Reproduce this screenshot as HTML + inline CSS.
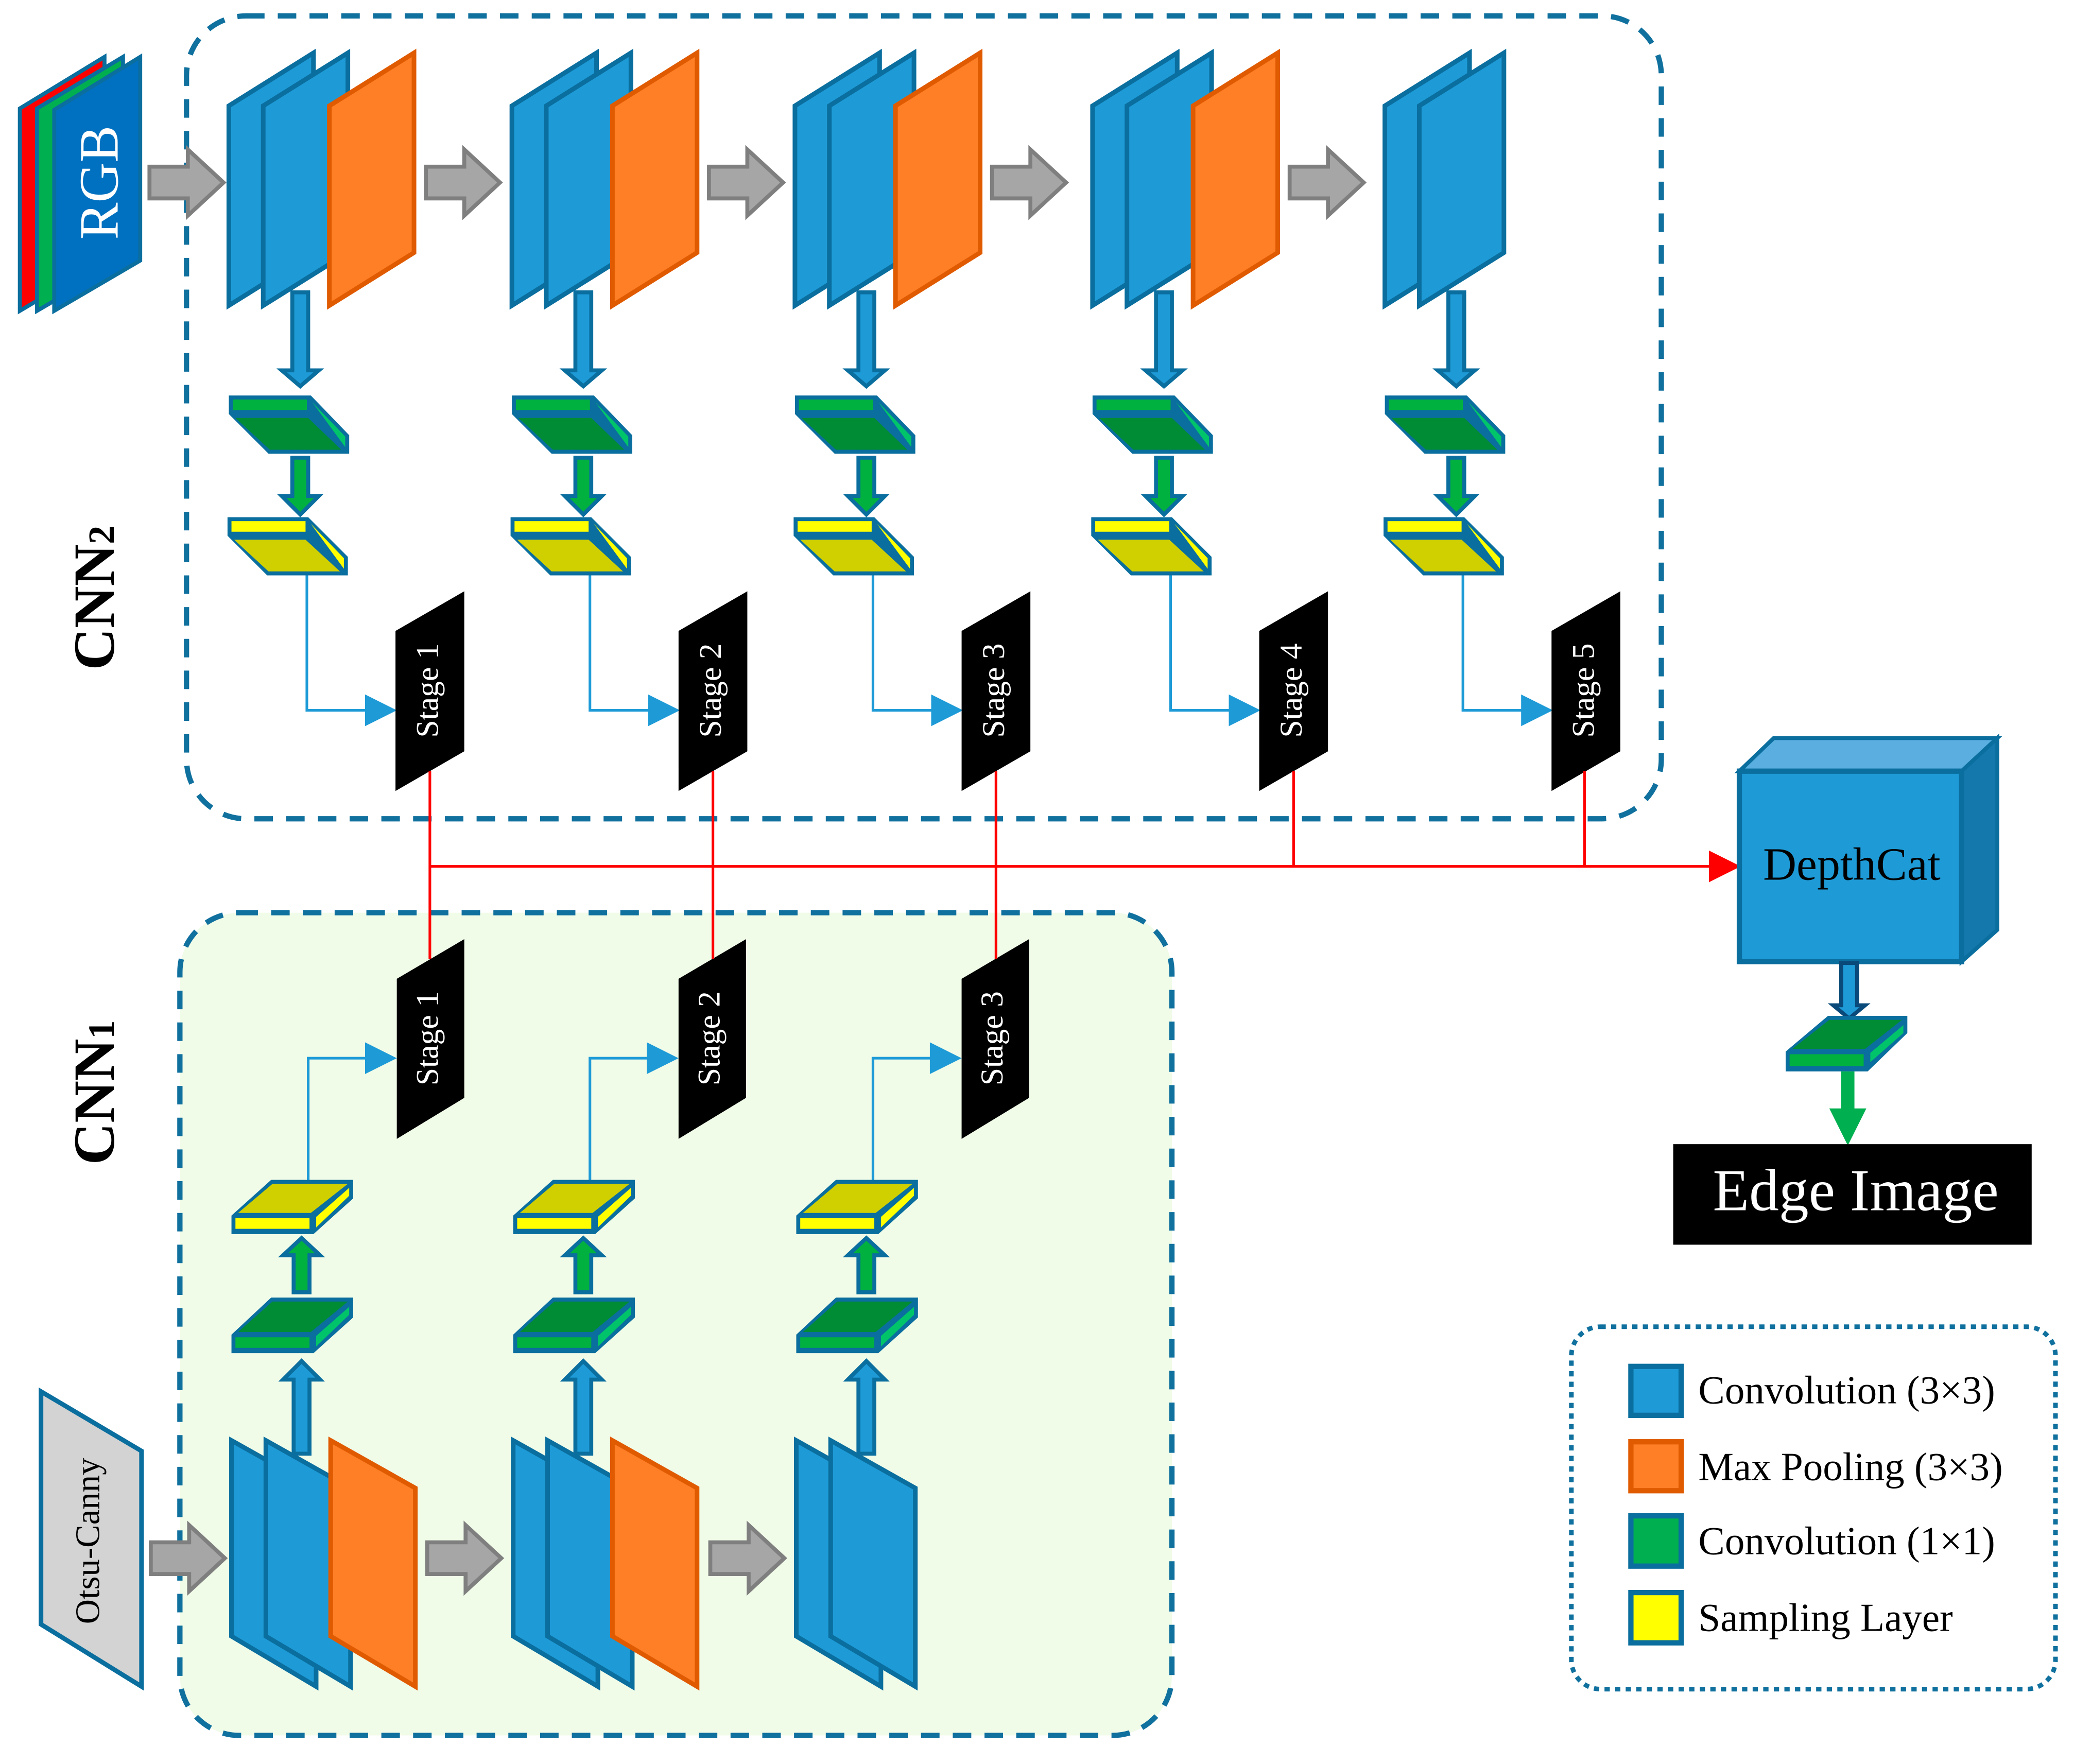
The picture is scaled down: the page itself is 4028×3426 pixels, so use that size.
<!DOCTYPE html>
<html><head><meta charset="utf-8">
<style>
html,body{margin:0;padding:0;background:#fff;}
svg{display:block;}
text{font-family:"Liberation Serif",serif;}
</style></head>
<body>
<svg width="4028" height="3426" viewBox="0 0 1568 1333.6" preserveAspectRatio="none" xmlns="http://www.w3.org/2000/svg">
<defs>
  <g id="tblue">
    <polygon points="0,80 64,40 64,191 0,231" fill="#1e9bd7" stroke="#0a6e9e" stroke-width="3.5" stroke-linejoin="miter"/>
  </g>
  <g id="torange">
    <polygon points="0,80 64,40 64,191 0,231" fill="#ff7f27" stroke="#e05a00" stroke-width="3.5"/>
  </g>
  <g id="tlower">
    <polygon points="48,221 60,221 60,280 68,280 54,292 40,280 48,280" fill="#1e9bd7" stroke="#0a6e9e" stroke-width="3"/>
    <polygon points="0,299 62,299 91,329 91,343 30,343 0,313" fill="#0a6e9e"/>
    <rect x="3" y="302" width="56" height="8" fill="#00b140"/>
    <polygon points="63,304 88,330 88,338" fill="#00c46a"/>
    <polygon points="5,316 60,316 85,340 31,340" fill="#008c35"/>
    <polygon points="48,346 60,346 60,375 68,375 54,389 40,375 48,375" fill="#00b140" stroke="#0a6e9e" stroke-width="3"/>
    <polygon points="-1,391 60,391 90,421 90,435 29,435 -1,405" fill="#0a6e9e"/>
    <rect x="2" y="394" width="56" height="8" fill="#ffff00"/>
    <polygon points="62,396 87,422 87,430" fill="#ffff00"/>
    <polygon points="4,408 58,408 84,432 30,432" fill="#d0d000"/>
    <polyline points="59,435 59,537 106,537" fill="none" stroke="#1e9bd7" stroke-width="2"/>
    <polygon points="103,525 127,537 103,549" fill="#1e9bd7"/>
    <polygon points="126,477 178,447 178,568 126,598" fill="#000"/>
  </g>
  <g id="bblue">
    <polygon points="0,1089 64,1125 64,1275 0,1237" fill="#1e9bd7" stroke="#0a6e9e" stroke-width="3.5"/>
  </g>
  <g id="borange">
    <polygon points="0,1089 64,1125 64,1275 0,1237" fill="#ff7f27" stroke="#e05a00" stroke-width="3.5"/>
  </g>
  <g id="bupper">
    <polygon points="47,1099 59,1099 59,1043 67,1043 53,1029 39,1043 47,1043" fill="#1e9bd7" stroke="#0a6e9e" stroke-width="3"/>
    <polygon points="0,1009 30,981 92,981 92,996 62,1023 0,1023" fill="#0a6e9e"/>
    <polygon points="5,1007 31,984 88,984 60,1007" fill="#008c35"/>
    <rect x="3" y="1011" width="56" height="8" fill="#00b140"/>
    <polygon points="64,1010 89,988 89,994 64,1018" fill="#00c46a"/>
    <polygon points="47,977 59,977 59,949 67,949 53,936 39,949 47,949" fill="#00b140" stroke="#0a6e9e" stroke-width="3"/>
    <polygon points="0,919 30,892 92,892 92,906 62,933 0,933" fill="#0a6e9e"/>
    <polygon points="5,917 31,895 88,895 60,917" fill="#d0d000"/>
    <rect x="3" y="921" width="56" height="8" fill="#ffff00"/>
    <polygon points="64,920 89,898 89,904 64,928" fill="#ffff00"/>
    <polyline points="58,892 58,800 104,800" fill="none" stroke="#1e9bd7" stroke-width="2"/>
    <polygon points="101,788 125,800 101,812" fill="#1e9bd7"/>
    <polygon points="125,740 176,710 176,830 125,861" fill="#000"/>
  </g>
  <g id="garrow">
    <polygon points="0,-12 29,-12 29,-25 56,0 29,25 29,12 0,12" fill="#a6a6a6" stroke="#7f7f7f" stroke-width="3"/>
  </g>
</defs>

<rect x="141" y="12" width="1115" height="607" rx="45" fill="none" stroke="#10709e" stroke-width="4" stroke-dasharray="14 10"/>
<rect x="136" y="690" width="750" height="622" rx="45" fill="#f0fbe8" stroke="#10709e" stroke-width="4" stroke-dasharray="14 10"/>

<polygon points="15,82 79,43 79,197 15,235" fill="#ff0000" stroke="#0a6e9e" stroke-width="3"/>
<polygon points="28,82 93,43 93,197 28,235" fill="#00b050" stroke="#0a6e9e" stroke-width="3"/>
<polygon points="41,83 106,43 106,197 41,235" fill="#0070c0" stroke="#0a6e9e" stroke-width="3"/>
<text transform="translate(89,138) rotate(-90)" text-anchor="middle" font-size="42" fill="#fff">RGB</text>

<polygon points="31,1052 107,1097 107,1275 31,1228" fill="#d3d3d3" stroke="#0a6e9e" stroke-width="3.5"/>
<text transform="translate(75,1165) rotate(-90)" text-anchor="middle" font-size="26" fill="#000">Otsu-Canny</text>

<text transform="translate(86,452) rotate(-90)" text-anchor="middle" font-size="44" font-weight="bold" fill="#000">CNN<tspan font-size="28">2</tspan></text>
<text transform="translate(86,826) rotate(-90)" text-anchor="middle" font-size="44" font-weight="bold" fill="#000">CNN<tspan font-size="28">1</tspan></text>

<use href="#garrow" x="113" y="138"/>
<use href="#garrow" x="322" y="138"/>
<use href="#garrow" x="536" y="138"/>
<use href="#garrow" x="750" y="138"/>
<use href="#garrow" x="975" y="138"/>
<use href="#garrow" x="114" y="1178"/>
<use href="#garrow" x="323" y="1178"/>
<use href="#garrow" x="537" y="1178"/>

<g transform="translate(173,0)"><use href="#tblue"/><use href="#tblue" x="26"/><use href="#torange" x="76"/><use href="#tlower"/></g>
<g transform="translate(387,0)"><use href="#tblue"/><use href="#tblue" x="26"/><use href="#torange" x="76"/><use href="#tlower"/></g>
<g transform="translate(601,0)"><use href="#tblue"/><use href="#tblue" x="26"/><use href="#torange" x="76"/><use href="#tlower"/></g>
<g transform="translate(826,0)"><use href="#tblue"/><use href="#tblue" x="26"/><use href="#torange" x="76"/><use href="#tlower"/></g>
<g transform="translate(1047,0)"><use href="#tblue"/><use href="#tblue" x="26"/><use href="#tlower"/></g>

<g transform="translate(175,0)"><use href="#bblue"/><use href="#bblue" x="26"/><use href="#borange" x="75"/><use href="#bupper"/></g>
<g transform="translate(388,0)"><use href="#bblue"/><use href="#bblue" x="26"/><use href="#borange" x="75"/><use href="#bupper"/></g>
<g transform="translate(602,0)"><use href="#bblue"/><use href="#bblue" x="26"/><use href="#bupper"/></g>

<g font-size="24" fill="#fff" text-anchor="middle">
<text transform="translate(331,522) rotate(-90)">Stage 1</text>
<text transform="translate(545,522) rotate(-90)">Stage 2</text>
<text transform="translate(759,522) rotate(-90)">Stage 3</text>
<text transform="translate(984,522) rotate(-90)">Stage 4</text>
<text transform="translate(1205,522) rotate(-90)">Stage 5</text>
<text transform="translate(331,785) rotate(-90)">Stage 1</text>
<text transform="translate(544,785) rotate(-90)">Stage 2</text>
<text transform="translate(758,785) rotate(-90)">Stage 3</text>
</g>

<g stroke="#ff0000" stroke-width="2" fill="none">
<line x1="325" y1="583" x2="325" y2="725"/>
<line x1="539" y1="583" x2="539" y2="725"/>
<line x1="753" y1="583" x2="753" y2="725"/>
<line x1="978" y1="583" x2="978" y2="655"/>
<line x1="1198" y1="583" x2="1198" y2="655"/>
<line x1="325" y1="655" x2="1295" y2="655"/>
</g>
<polygon points="1292,643 1316,655 1292,667" fill="#ff0000"/>

<polygon points="1315,583 1341,558 1510,558 1483,583" fill="#5aafe0" stroke="#0a6e9e" stroke-width="3"/>
<polygon points="1483,583 1510,558 1510,703 1483,727" fill="#1578ad" stroke="#0a6e9e" stroke-width="3"/>
<rect x="1315" y="583" width="168" height="144" fill="#1e9bd7" stroke="#0a6e9e" stroke-width="4"/>
<text x="1400" y="665" text-anchor="middle" font-size="35" fill="#000">DepthCat</text>
<polygon points="1392,728 1404,728 1404,760 1410,760 1398,770 1386,760 1392,760" fill="#1e9bd7" stroke="#0a4a7a" stroke-width="3"/>
<polygon points="1350,795 1382,768 1442,768 1442,781 1412,810 1350,810" fill="#0a6e9e"/>
<polygon points="1355,793 1383,771 1438,771 1410,793" fill="#008c35"/>
<rect x="1353" y="797" width="56" height="9" fill="#00b140"/>
<polygon points="1414,796 1439,775 1439,781 1414,803" fill="#00c46a"/>
<polygon points="1392,810 1402,810 1402,838 1411,838 1397,866 1383,838 1392,838" fill="#00b050"/>
<rect x="1265" y="865" width="271" height="76" fill="#000"/>
<text x="1403" y="915" text-anchor="middle" font-size="45" fill="#fff">Edge Image</text>

<rect x="1188" y="1003" width="366" height="274" rx="22" fill="none" stroke="#10709e" stroke-width="3.5" stroke-dasharray="4 4"/>
<rect x="1233" y="1033" width="38" height="37" fill="#1e9bd7" stroke="#0a6e9e" stroke-width="4"/>
<rect x="1233" y="1090" width="38" height="37" fill="#ff7f27" stroke="#e05a00" stroke-width="4"/>
<rect x="1233" y="1146" width="38" height="38" fill="#00b050" stroke="#0a6e9e" stroke-width="4"/>
<rect x="1233" y="1204" width="38" height="38" fill="#ffff00" stroke="#0a6e9e" stroke-width="4"/>
<g font-size="30" fill="#000">
<text x="1284" y="1061">Convolution (3×3)</text>
<text x="1284" y="1119">Max Pooling (3×3)</text>
<text x="1284" y="1175">Convolution (1×1)</text>
<text x="1284" y="1233">Sampling Layer</text>
</g>
</svg>
</body></html>
